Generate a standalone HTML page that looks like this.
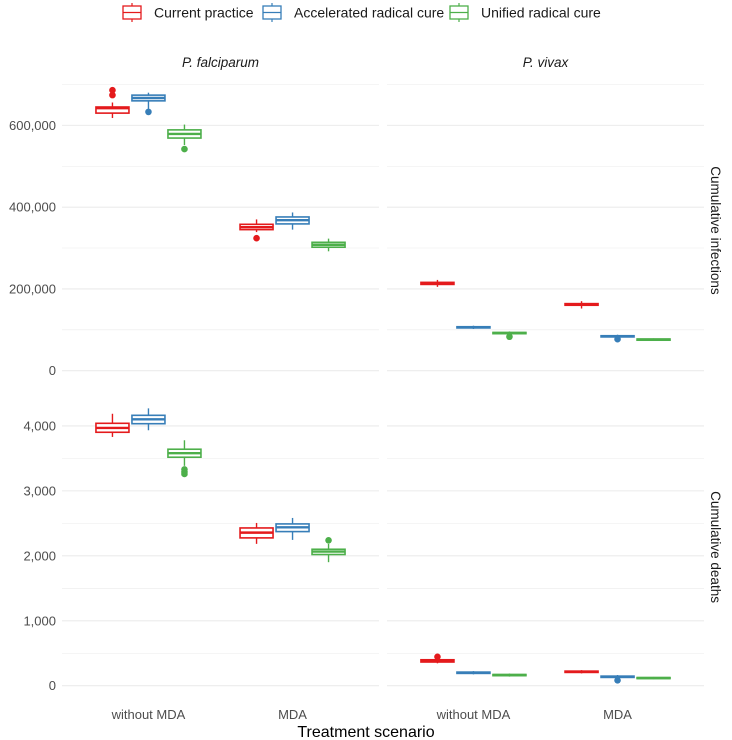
<!DOCTYPE html>
<html><head><meta charset="utf-8"><style>
body{margin:0;background:#fff;font-family:"Liberation Sans",Arial,sans-serif}
svg{display:block}
</style></head><body>
<svg id="c" width="732" height="740" xmlns="http://www.w3.org/2000/svg"></svg>
<script>
// ---- data ----
const species = ["P. falciparum","P. vivax"];
const scenarios = ["without MDA","MDA"];
const strategies = ["Current practice","Accelerated radical cure","Unified radical cure"];
const colors = ["#E41A1C","#377EB8","#4DAF4A"];
// stats per [species][scenario][strategy]: [lowWhisker, q1, median, q3, highWhisker]
const infStats = [
 [[[618000,630000,642000,645000,656000],[640000,660000,667000,674000,680000],[552000,569000,579000,589000,602000]],
  [[339000,345000,351000,358000,370000],[345000,359000,368000,376000,387000],[292000,302000,308000,314000,323000]]],
 [[[205000,211000,214000,216000,222000],[102000,104500,106000,107500,110000],[88000,90500,92000,93500,96000]],
  [[152000,160000,162000,164000,170000],[80000,82500,84000,85500,88000],[73000,74500,76000,77500,79000]]]
];
const infOutliers = [
 [[[686000,674000],[633000],[542000]],[[324000],[],[]]],
 [[[],[],[83000]],[[],[77000],[]]]
];
const deathStats = [
 [[[3830,3902,3968,4040,4187],[3933,4034,4101,4163,4270],[3385,3518,3580,3641,3779]],
  [[2184,2276,2357,2429,2506],[2245,2373,2439,2491,2583],[1902,2020,2066,2101,2184]]],
 [[[345,365,383,400,420],[175,190,200,210,225],[140,155,164,173,188]],
  [[190,205,215,225,240],[110,128,138,148,165],[100,110,118,126,135]]]
];
const deathOutliers = [
 [[[],[],[3330,3290,3260]],[[],[],[2239]]],
 [[[445],[],[]],[[],[83],[]]]
];
const infTicks = [0,200000,400000,600000];
const deathTicks = [0,1000,2000,3000,4000];

// ---- layout ----
const NS="http://www.w3.org/2000/svg";
const svg=document.getElementById('c');
function el(t,a,p){const e=document.createElementNS(NS,t);for(const k in a)e.setAttribute(k,a[k]);(p||svg).appendChild(e);return e;}
const panelsX=[[62,379],[387,704]];
const rows=[
 {y0:76.2,y1:384.7,min:-34300,max:720300,stats:infStats,out:infOutliers,ticks:infTicks,minorStep:100000,label:"Cumulative infections",name:"infections"},
 {y0:394.5,y1:699.6,min:-213.5,max:4483.5,stats:deathStats,out:deathOutliers,ticks:deathTicks,minorStep:500,label:"Cumulative deaths",name:"deaths"}
];
function xScale(p,si,st){const [a,b]=panelsX[p];const step=(b-a)/(scenarios.length-1+1.2);return a+step*0.6+si*step+(st-1)*36;}
function yScale(r,v){return r.y1-(v-r.min)/(r.max-r.min)*(r.y1-r.y0);}
function fmt(v){return v.toLocaleString('en-US');}

rows.forEach((r,ri)=>{
 for(let p=0;p<2;p++){
  const [a,b]=panelsX[p];
  for(let v=0;v<=r.max;v+=r.minorStep){
   const y=yScale(r,v);const major=r.ticks.includes(v);
   const g=el('line',{x1:a,x2:b,y1:y,y2:y,stroke:'#ebebeb','stroke-width':major?1.1:0.55});
   
   
  }
 }
 r.ticks.forEach(v=>{
  const t=el('text',{x:56,y:yScale(r,v)+4.5,'text-anchor':'end','font-size':'13',fill:'#4d4d4d'});
  t.textContent=fmt(v);
  
  
 });
 const cy=(r.y0+r.y1)/2;
 const s=el('text',{x:0,y:0,transform:`translate(711,${cy}) rotate(90)`,'text-anchor':'middle','font-size':'13.5',fill:'#1a1a1a'});
 s.textContent=r.label;
 
 
 for(let p=0;p<2;p++)for(let si=0;si<2;si++)for(let st=0;st<3;st++){
  const d=r.stats[p][si][st];const c=colors[st];const x=xScale(p,si,st);const w=33;
  const g=el('g',{});
  
  
  el('line',{x1:x,x2:x,y1:yScale(r,d[0]),y2:yScale(r,d[4]),stroke:c,'stroke-width':1.4},g);
  const yq3=yScale(r,d[3]),yq1=yScale(r,d[1]);
  el('rect',{x:x-w/2,y:yq3,width:w,height:Math.max(yq1-yq3,0.5),fill:'#fff',stroke:c,'stroke-width':1.6},g);
  const ym=yScale(r,d[2]);
  el('line',{x1:x-w/2,x2:x+w/2,y1:ym,y2:ym,stroke:c,'stroke-width':2.4},g);
  r.out[p][si][st].forEach(v=>{
   const o=el('circle',{cx:x,cy:yScale(r,v),r:3.3,fill:c},g);
   
   
  });
 }
});
for(let p=0;p<2;p++)scenarios.forEach((s,si)=>{
 const t=el('text',{x:xScale(p,si,1),y:719,'text-anchor':'middle','font-size':'13',fill:'#4d4d4d'});
 t.textContent=s;
 
 
});
const xt=el('text',{x:366,y:737,'text-anchor':'middle','font-size':'16',fill:'#000'});
xt.textContent='Treatment scenario';


species.forEach((s,p)=>{
 const t=el('text',{x:(panelsX[p][0]+panelsX[p][1])/2,y:67,'text-anchor':'middle','font-size':'13.5','font-style':'italic',fill:'#1a1a1a'});
 t.textContent=s;
 
 
});
const legX=[123,263,450];
strategies.forEach((s,i)=>{
 const g=el('g',{});
 
 
 const x=legX[i],c=colors[i];
 el('line',{x1:x+9,x2:x+9,y1:3,y2:22,stroke:c,'stroke-width':1.2},g);
 el('rect',{x:x,y:6,width:18,height:13,fill:'#fff',stroke:c,'stroke-width':1.3},g);
 el('line',{x1:x,x2:x+18,y1:12.5,y2:12.5,stroke:c,'stroke-width':1.3},g);
 const t=el('text',{x:x+31,y:17.5,'font-size':'14',fill:'#1a1a1a'},g);
 t.textContent=s;
});
</script>
</body></html>
